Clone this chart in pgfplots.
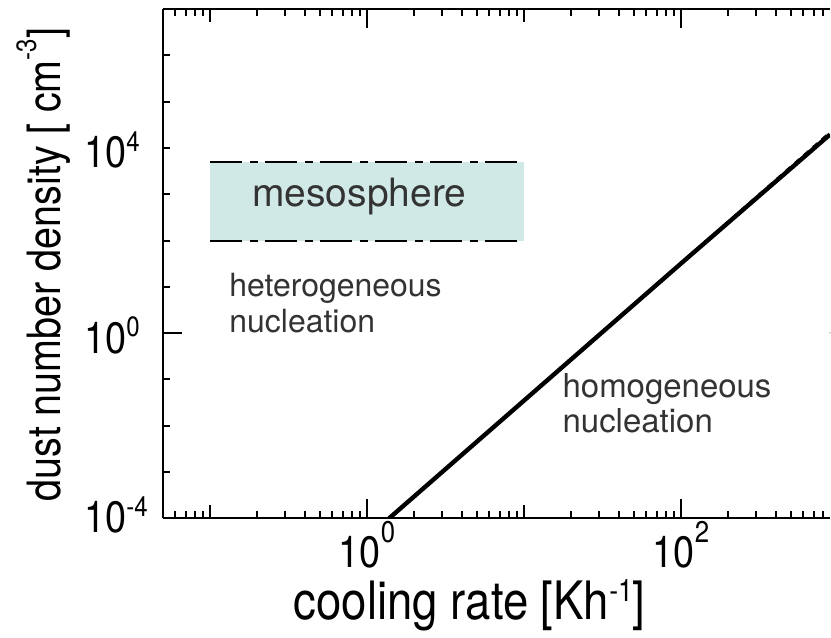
\documentclass[border=0pt]{standalone}
\usepackage{pgfplots}
\pgfplotsset{compat=1.18}
\usepackage{fontspec}
\setmainfont{TeX Gyre Heros}
% the axis texts of the reference are horizontally condensed
\newfontfamily\axf{TeX Gyre Heros}[FakeStretch=0.86]
\definecolor{meso}{RGB}{208,233,231}
\definecolor{txt}{RGB}{51,51,51}
% tick label helpers: 10 with a raised exponent
\newcommand{\xl}[1]{10\raisebox{12.5pt}{\fontsize{15}{15}\selectfont #1}}
\newcommand{\yl}[1]{10\rlap{\raisebox{8.25pt}{\fontsize{14}{14}\selectfont #1}}}
\begin{document}
\begin{tikzpicture}
\begin{axis}[
  name=ax,
  scale only axis, width=334pt, height=255pt,
  xmode=log, ymode=log,
  xmin=0.05, xmax=889, ymin=1e-4, ymax=1e7,
  separate axis lines,
  axis x line=box, axis y line*=left,
  axis line style={line width=1pt, -},
  every tick/.style={black, line width=1pt},
  tick align=inside,
  xtick pos=both, ytick pos=left,
  major tick length=9.5pt, minor tick length=3.5pt,
  xtick={1,100}, xticklabels={\xl{0},\xl{2}},
  extra x ticks={0.1,10}, extra x tick labels={},
  extra x tick style={major tick length=6.5pt},
  minor xtick={0.06,0.07,0.08,0.09,0.2,0.3,0.4,0.5,0.6,0.7,0.8,0.9,2,3,4,5,6,7,8,9,20,30,40,50,60,70,80,90,200,300,400,500,600,700,800},
  ytick={1}, yticklabels={\yl{0}},
  extra y ticks={1e-4,1e4},
  extra y tick labels={\raisebox{2.75pt}{\yl{-4}},\yl{4}},
  extra y tick style={major tick length=3.5pt},
  minor ytick={1e-3,1e-2,1e-1,10,100,1000,1e5,1e6},
  xticklabel style={anchor=base, inner sep=0pt, yshift=-24.5pt, font=\axf\fontsize{22}{22}\selectfont},
  yticklabel style={anchor=base east, inner sep=0pt, xshift=-18pt, yshift=-10pt, font=\axf\fontsize{22}{22}\selectfont},
  xlabel={cooling rate [Kh\raisebox{9pt}{\fontsize{15.5}{15.5}\selectfont -1}]},
  ylabel={dust number density [ cm\raisebox{12pt}{\fontsize{14}{14}\selectfont -3}]},
  every axis x label/.style={at={(axis description cs:0.46,-0.198)}, anchor=base,
    font=\axf\fontsize{26.5}{26.5}\selectfont},
  every axis y label/.style={at={(axis description cs:-0.154,0.498)}, anchor=base, rotate=90,
    font=\axf\fontsize{23}{23}\selectfont},
]
% mesosphere band
\addplot[fill=meso, draw=none] coordinates {(0.1,100) (10,100) (10,5000) (0.1,5000)};
\addplot[black, line width=1pt, dash pattern=on 16pt off 4pt on 4pt off 3.5pt] coordinates {(0.1,100) (10,100)};
\addplot[black, line width=1pt, dash pattern=on 16pt off 4pt on 4pt off 3.5pt] coordinates {(0.1,5000) (10,5000)};
% homogeneous nucleation
\addplot[black, line width=2.2pt] coordinates {(1.38,1e-4) (10,0.0351) (100,32.0) (889,19500)};
\addplot[black, line width=1pt, dashed] coordinates {(1.38,1e-4) (100,33) (889,22000)};
\node[anchor=base west, inner sep=0pt, text=txt, font=\fontsize{19.5}{19.5}\selectfont] at (axis cs:0.185,535) {mesosphere};
\node[anchor=base west, inner sep=0pt, text=txt, font=\fontsize{16}{16}\selectfont] at (axis cs:0.132,6.15) {heterogeneous};
\node[anchor=base west, inner sep=0pt, text=txt, font=\fontsize{16}{16}\selectfont] at (axis cs:0.132,1.03) {nucleation};
\node[anchor=base west, inner sep=0pt, text=txt, font=\fontsize{16.5}{16.5}\selectfont] at (axis cs:17.5,0.0409) {homogeneous};
\node[anchor=base west, inner sep=0pt, text=txt, font=\fontsize{16.5}{16.5}\selectfont] at (axis cs:17.5,0.00721) {nucleation};
% inward tick of the (cropped) right axis at 10^0
\draw[line width=1pt] (axis cs:889,1) -- ++(-5.5pt,0);
\end{axis}
% page frame: margins as in the reference
\path ([xshift=-81.5pt,yshift=-56.5pt]ax.south west) rectangle ([yshift=4.5pt]ax.north east);
\end{tikzpicture}
\end{document}
